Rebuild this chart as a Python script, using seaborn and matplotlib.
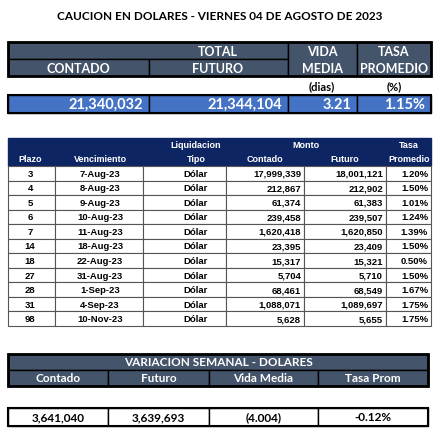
import matplotlib.pyplot as plt
from matplotlib.patches import Rectangle
import seaborn as sns

sns.set_theme(style="white")
plt.rcParams['font.family'] = ['Lato', 'DejaVu Sans']

titulo = "CAUCION EN DOLARES - VIERNES 04 DE AGOSTO DE 2023"
total_contado = "21,340,032"
total_futuro = "21,344,104"
vida_media = "3.21"
tasa_promedio = "1.15%"

plazo = [3, 4, 5, 6, 7, 14, 18, 27, 28, 31, 98]
vencimiento = ["7-Aug-23", "8-Aug-23", "9-Aug-23", "10-Aug-23", "11-Aug-23", "18-Aug-23",
               "22-Aug-23", "31-Aug-23", "1-Sep-23", "4-Sep-23", "10-Nov-23"]
contado = [17999339, 212867, 61374, 239458, 1620418, 23395, 15317, 5704, 68461, 1088071, 5628]
futuro = [18001121, 212902, 61383, 239507, 1620850, 23409, 15321, 5710, 68549, 1089697, 5655]
tasa = [1.20, 1.50, 1.01, 1.24, 1.39, 1.50, 0.50, 1.50, 1.67, 1.75, 1.75]

var_labels = ["Contado", "Futuro", "Vida Media", "Tasa Prom"]
var_values = ["3,641,040", "3,639,693", "(4.004)", "-0.12%"]

SLATE = "#44546A"
BLUE = "#4472C4"
NAVY = "#0E2563"

fig = plt.figure(figsize=(4.40, 4.39), dpi=100)
ax = fig.add_axes([0, 0, 1, 1])
ax.set_xlim(0, 440)
ax.set_ylim(439, 0)
ax.axis('off')


def cell(x0, x1, y0, y1, fc="white", ec="black", lw=1.0):
    ax.add_patch(Rectangle((x0, y0), x1 - x0, y1 - y0, fc=fc, ec=ec, lw=lw))


def txt(x, y, s, **kw):
    kw.setdefault('ha', 'center')
    kw.setdefault('va', 'center')
    kw.setdefault('color', 'black')
    ax.text(x, y, s, **kw)


txt(220, 17, titulo, fontsize=8.5, fontweight='bold')

# --- table 1
cols1 = [8, 149, 288, 357, 431]
cell(8, 288, 43, 60, SLATE, "black", 1.0)
cell(8, 149, 60, 77, SLATE)
cell(149, 288, 60, 77, SLATE)
cell(288, 357, 43, 77, SLATE)
cell(357, 431, 43, 77, SLATE)
ax.add_patch(Rectangle((8, 43), 423, 34, fill=False, ec="black", lw=2))
wh = dict(color="white", fontweight='bold', fontsize=9)
txt(218, 52, "TOTAL", **wh)
txt(78, 69, "CONTADO", **wh)
txt(218, 69, "FUTURO", **wh)
txt(322, 52, "VIDA", **wh)
txt(322, 69, "MEDIA", **wh)
txt(394, 52, "TASA", **wh)
txt(394, 69, "PROMEDIO", **wh)
txt(322, 87, "(dias)", fontsize=8, fontweight='bold')
txt(394, 87, "(%)", fontsize=8, fontweight='bold')
vals1 = [total_contado, total_futuro, vida_media, tasa_promedio]
for i, v in enumerate(vals1):
    cell(cols1[i], cols1[i + 1], 96, 114, BLUE)
    txt(cols1[i + 1] - 6, 105, v, ha='right', color="white", fontweight='bold', fontsize=10.5)
ax.add_patch(Rectangle((8, 96), 423, 18, fill=False, ec="black", lw=1.5))

# --- table 2
cols2 = [8, 55, 143, 226, 304, 386, 431]
cell(8, 431, 139, 167, NAVY, NAVY)
hd = dict(color="white", fontsize=6.5, fontweight='bold', family='Liberation Sans')
txt(196, 146, "Liquidacion", **hd)
txt(306, 146, "Monto", **hd)
txt(409, 146, "Tasa", **hd)
txt(30, 160, "Plazo", **hd)
txt(100, 160, "Vencimiento", **hd)
txt(196, 160, "Tipo", **hd)
txt(265, 160, "Contado", **hd)
txt(345, 160, "Futuro", **hd)
txt(409, 160, "Promedio", **hd)
rh = (327 - 167) / len(plazo)
bd = dict(fontsize=6.8, family='Liberation Sans', fontweight='bold')
for r in range(len(plazo)):
    y0 = 167 + r * rh
    for c in range(6):
        cell(cols2[c], cols2[c + 1], y0, y0 + rh, "white", "#555555", 0.8)
    yc = y0 + rh / 2
    txt(30, yc, str(plazo[r]), **bd)
    txt(100, yc, vencimiento[r], **bd)
    txt(196, yc, "Dólar", **bd)
    txt(cols2[4] - 3, yc, f"{contado[r]:,}", ha='right', **bd)
    txt(cols2[5] - 3, yc, f"{futuro[r]:,}", ha='right', **bd)
    txt(cols2[6] - 3, yc, f"{tasa[r]:.2f}%", ha='right', **bd)

# --- table 3
cols3 = [8, 108, 209, 318, 428]
cell(8, 428, 355, 371, SLATE)
txt(218, 363, "VARIACION SEMANAL - DOLARES", **dict(wh, fontsize=8.5))
for i, lab in enumerate(var_labels):
    cell(cols3[i], cols3[i + 1], 371, 387, SLATE)
    txt((cols3[i] + cols3[i + 1]) / 2, 379, lab, **dict(wh, fontsize=8.5))
    cell(cols3[i], cols3[i + 1], 409, 427, "white", "black", 1.0)
    txt((cols3[i] + cols3[i + 1]) / 2, 418, var_values[i], fontsize=8.5, fontweight='bold')
ax.add_patch(Rectangle((8, 355), 420, 32, fill=False, ec="black", lw=2))
ax.add_patch(Rectangle((8, 409), 420, 18, fill=False, ec="black", lw=1.5))

fig.savefig("out.png", dpi=100)
